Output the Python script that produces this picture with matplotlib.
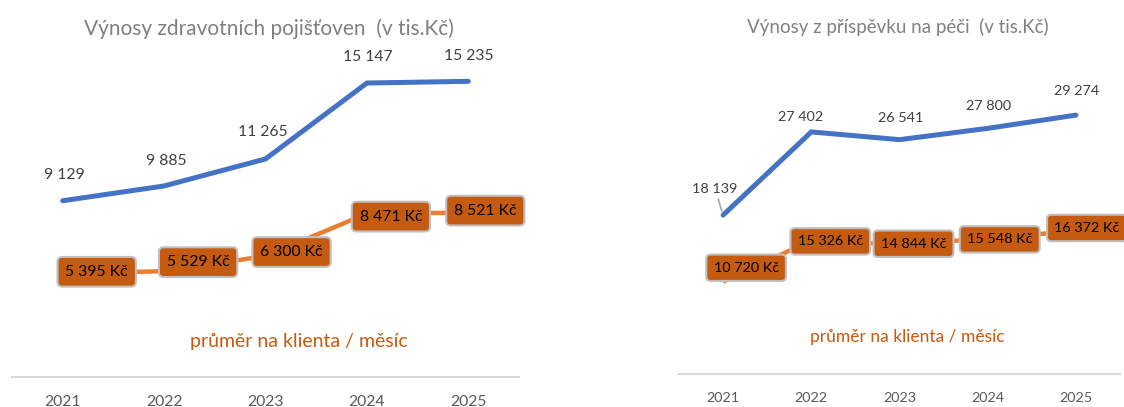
import matplotlib.pyplot as plt

plt.rcParams['font.family'] = ['Lato', 'DejaVu Sans']

years = ['2021', '2022', '2023', '2024', '2025']

# Výnosy zdravotních pojišťoven (v tis. Kč)
zp_total = [9129, 9885, 11265, 15147, 15235]
zp_avg = [5395, 5529, 6300, 8471, 8521]

# Výnosy z příspěvku na péči (v tis. Kč)
ppp_total = [18139, 27402, 26541, 27800, 29274]
ppp_avg = [10720, 15326, 14844, 15548, 16372]

BLUE = '#4472C4'
ORANGE = '#ED7D31'
DARK_OR = '#C55A11'
W, H = 1124, 407


def fmt(v):
    return f'{v:,}'.replace(',', '\u00a0')


def draw(ax, x0, x1, base_px, zero_px, slope, total, avg, fs,
         blue_off, box_off, leader=None):
    # axes placed in pixel terms; y scale chosen so that values sit like the reference
    top_px = 40
    ax.set_position([x0 / W, 1 - base_px / H, (x1 - x0) / W, (base_px - top_px) / H])
    ylo = (zero_px - base_px) / slope
    yhi = (zero_px - top_px) / slope
    ax.set_ylim(ylo, yhi)
    ax.set_xlim(-0.5, 4.5)
    x = range(len(years))
    ax.plot(x, total, color=BLUE, lw=3.6, solid_capstyle='round', solid_joinstyle='miter')
    ax.plot(x, avg, color=ORANGE, lw=3.2, solid_capstyle='butt')
    for i, v in enumerate(total):
        kw = {}
        if leader is not None and i == leader:
            kw = dict(arrowprops=dict(arrowstyle='-', color='#A6A6A6', lw=1.2,
                                      shrinkA=1, shrinkB=3))
        ax.annotate(fmt(v), (i, v), xytext=blue_off[i], textcoords='offset pixels',
                    ha='center', va='center', fontsize=fs, color='#404040', **kw)
    for i, v in enumerate(avg):
        ax.annotate(fmt(v) + ' Kč', (i, v), xytext=box_off[i], textcoords='offset pixels',
                    ha='center', va='center', fontsize=fs, color='black',
                    bbox=dict(boxstyle='round,pad=0.5,rounding_size=0.3', fc=DARK_OR,
                              ec='#BFBFBF', lw=1.5),
                    annotation_clip=False, zorder=5)
    ax.set_xticks(list(x))
    ax.set_xticklabels(years)
    ax.tick_params(axis='x', length=0, pad=13, labelsize=fs, labelcolor='#595959')
    ax.set_yticks([])
    for s in ['left', 'right', 'top']:
        ax.spines[s].set_visible(False)
    ax.spines['bottom'].set_color('#D9D9D9')
    ax.spines['bottom'].set_linewidth(1.5)


fig = plt.figure(figsize=(W / 100, H / 100), dpi=100)
ax1 = fig.add_axes([0, 0, 1, 1])
ax2 = fig.add_axes([0, 0, 1, 1])

draw(ax1, 12, 519, 377, 379.3, 0.01956, zp_total, zp_avg, 11.3,
     blue_off=[(2, 26), (2, 25), (-3, 27), (1, 26), (1, 25)],
     box_off=[(34, 2), (34, 9), (26, 4), (24, -3), (17, 2)])
draw(ax2, 679, 1120, 374, 378, 0.00898, ppp_total, ppp_avg, 10.4,
     blue_off=[(-8, 26), (-11, 15), (1, 22), (1, 22), (1, 24)],
     box_off=[(23, 14), (19, -1), (14, 1), (12, -1), (11, 3)],
     leader=0)

fig.text(269 / W, 1 - 29 / H, 'Výnosy zdravotních pojišťoven  (v tis.Kč)',
         ha='center', va='center', fontsize=15, color='#808080')
fig.text(898 / W, 1 - 27 / H, 'Výnosy z příspěvku na péči  (v tis.Kč)',
         ha='center', va='center', fontsize=13.5, color='#808080')
fig.text(299 / W, 1 - 342 / H, 'průměr na klienta / měsíc',
         ha='center', va='center', fontsize=14, color=DARK_OR)
fig.text(907 / W, 1 - 337 / H, 'průměr na klienta / měsíc',
         ha='center', va='center', fontsize=12.5, color=DARK_OR)

fig.savefig('out.png', dpi=100)
